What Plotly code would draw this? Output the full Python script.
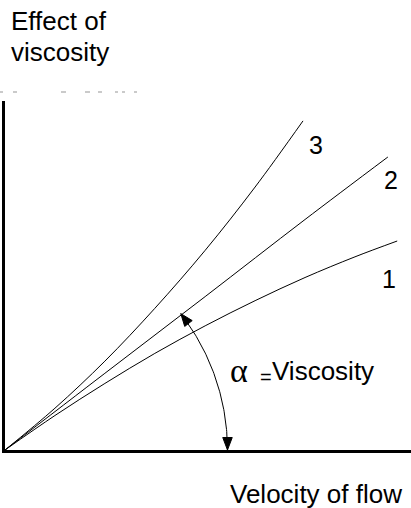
import numpy as np
import plotly.graph_objects as go

# ---- data (arbitrary units, origin at the axes corner) ----
curve1_x = [0, 12.3, 24.6, 36.9, 49.3, 61.6, 73.9, 86.2, 96.6]
curve1_y = [0, 8.5, 16.4, 23.8, 30.6, 36.8, 42.5, 47.6, 51.5]
curve2_x = [0, 24.6, 49.3, 73.9, 94.3]
curve2_y = [0, 18.9, 37.8, 56.8, 72.2]
curve3_x = [0, 12.3, 24.6, 36.9, 49.3, 61.6, 73.4]
curve3_y = [0, 10.3, 21.9, 34.9, 49.2, 64.8, 81.1]
curve_labels = ["1", "2", "3"]
arc_radius = 54.8
arc_angle_deg = 37.8
x_title = "Velocity of flow"
y_title = ["Effect of", "viscosity"]
alpha_label = "α"
eq_label = "="
visc_label = "Viscosity"

X_MAX, Y_MAX = 100, 86
W, H = 411, 508
L, R, T, B = 5, 0, 101, 58
PW, PH = W - L - R, H - T - B
SX, SY = PW / X_MAX, PH / Y_MAX  # pixels per data unit

FONT = "Arial, Liberation Sans, Helvetica, sans-serif"


def px(x, y):
    """pixel -> paper coordinates"""
    return (x - L) / PW, (T + PH - y) / PH


fig = go.Figure()
for xs, ys in [(curve1_x, curve1_y), (curve2_x, curve2_y), (curve3_x, curve3_y)]:
    fig.add_trace(go.Scatter(x=xs, y=ys, mode="lines", line=dict(color="black", width=1, shape="spline"),
                             hoverinfo="skip", showlegend=False))

# angle arc
th = np.radians(np.linspace(0, arc_angle_deg, 80))
fig.add_trace(go.Scatter(x=arc_radius * np.cos(th), y=arc_radius * np.sin(th), mode="lines",
                         line=dict(color="black", width=1), hoverinfo="skip", showlegend=False))

# arrowheads at both ends of the arc (built in pixel space, converted to data units)
HEAD_LEN, HEAD_W = 12.5, 9.5
r_px = arc_radius * SX
for deg, sign in [(arc_angle_deg, 1), (0.0, -1)]:
    t = np.radians(deg)
    tip = np.array([r_px * np.cos(t), r_px * np.sin(t)])
    d = sign * np.array([-np.sin(t), np.cos(t)])  # pointing direction
    back = tip - d * HEAD_LEN
    perp = np.array([-d[1], d[0]])
    pts = [tip, back + perp * HEAD_W / 2, back - perp * HEAD_W / 2, tip]
    fig.add_trace(go.Scatter(x=[p[0] / SX for p in pts], y=[p[1] / SY for p in pts], mode="lines",
                             fill="toself", fillcolor="black", line=dict(color="black", width=1),
                             hoverinfo="skip", showlegend=False))

annotations = []


def label(text, x, y, size, xanchor="center", family=FONT):
    xp, yp = px(x, y)
    annotations.append(dict(text=text, x=xp, y=yp, xref="paper", yref="paper", showarrow=False,
                            xanchor=xanchor, yanchor="middle",
                            font=dict(family=family, size=size, color="black")))


label(y_title[0], 9, 21, 26, "left")
label(y_title[1], 9, 52, 26, "left")
label(curve_labels[2], 316, 145, 25)
label(curve_labels[1], 391, 180, 25)
label(curve_labels[0], 389, 279, 25)
label(alpha_label, 238.5, 370, 34, family="Liberation Serif, DejaVu Serif, serif")
label(eq_label, 265.5, 377, 20)
label(visc_label, 270, 371, 26, "left")
label(x_title, 228, 494, 26, "left")

# faint remnants of a cropped line of text
shapes = []
for x0, x1 in [(0, 3), (13, 17), (61, 66), (85, 90), (98, 102), (115, 118), (122, 125), (134, 137)]:
    a, yy = px(x0, 92)
    b, _ = px(x1, 92)
    shapes.append(dict(type="line", xref="paper", yref="paper", x0=a, x1=b, y0=yy, y1=yy,
                       line=dict(color="#b8b8b8", width=1.5)))

fig.update_layout(
    width=W, height=H, margin=dict(l=L, r=R, t=T, b=B, pad=0),
    paper_bgcolor="white", plot_bgcolor="white",
    xaxis=dict(range=[0, X_MAX], showline=True, linecolor="black", linewidth=3, showgrid=False,
               zeroline=False, showticklabels=False, ticks="", fixedrange=True),
    yaxis=dict(range=[0, Y_MAX], showline=True, linecolor="black", linewidth=3, showgrid=False,
               zeroline=False, showticklabels=False, ticks="", fixedrange=True),
    annotations=annotations, shapes=shapes, showlegend=False,
)
fig.write_html("out.html", config={"displayModeBar": False},
               post_script="document.body.style.margin='0';document.body.style.overflow='hidden';")
